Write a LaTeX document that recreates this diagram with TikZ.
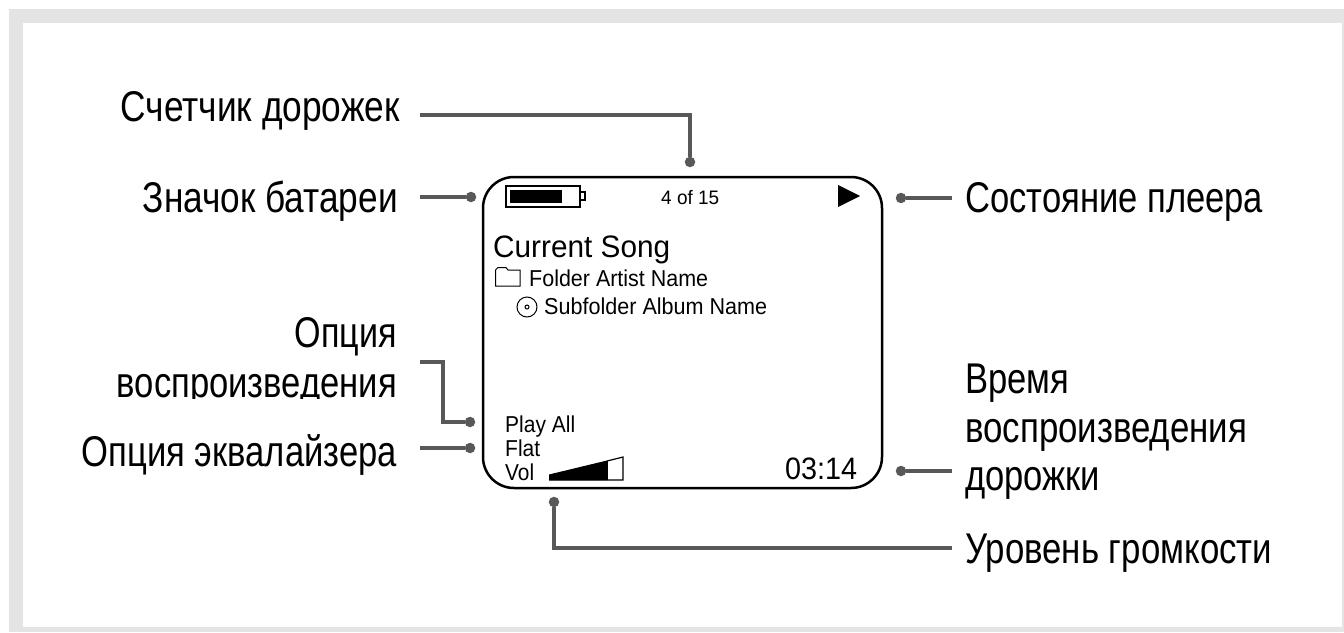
\documentclass[tikz,border=0pt]{standalone}
\usepackage{graphicx}
\usepackage{fontspec}
\setmainfont{Liberation Sans}
\definecolor{framegray}{HTML}{E4E4E4}
\definecolor{leadgray}{HTML}{585858}
\newcommand{\fw}[2]{\resizebox{#1pt}{\height}{#2}}
\newcommand{\fsz}[1]{\fontsize{#1pt}{#1pt}\selectfont}
\tikzset{
  lab/.style={inner sep=0pt,font=\fsz{43}},
  labl/.style={lab,anchor=base west},
  labr/.style={lab,anchor=base east},
  scr/.style={inner sep=0pt,anchor=base west,text=black},
  lead/.style={draw=leadgray,line width=4.5pt},
  dotend/.style={circle,fill=leadgray,inner sep=0pt,minimum size=10.5pt},
  screenbox/.style={draw=black,line width=2.5pt,rounded corners=31pt,inner sep=0pt,minimum width=399pt,minimum height=311pt},
}
\begin{document}
\begin{tikzpicture}[x=1pt,y=-1pt]
\useasboundingbox (0,0) rectangle (1344,632);
\fill[framegray] (9,9) rectangle (1344,632);
\fill[white] (23,23) rectangle (1342,627);

% screen
\node[screenbox] (screen) at (682.5,332.5) {};

% battery
\draw[black,line width=2pt] (506,186) rectangle (580,207);
\fill[black] (510,190) rectangle (562,203);
\draw[black,line width=1.5pt] (580.5,192) rectangle (585,200);
% play triangle
\fill[black] (838,185) -- (860,196) -- (838,207) -- cycle;
% folder icon
\draw[black,line width=1pt] (495.5,286) -- (495.5,270) -- (498,267.5) -- (506,267.5) -- (508,270) -- (520,270) -- (520,286) -- cycle;
% disc icon
\draw[black,line width=1pt] (527,307) circle (10);
\draw[black,line width=1pt] (527,307) circle (2);
% volume wedge
\fill[black] (549,474.5) -- (607,460.5) -- (607,480) -- (549,480) -- cycle;
\draw[black,line width=1.2pt] (549,480) -- (623,480) -- (623,457) -- (607,461);
\draw[black,line width=1.2pt] (607,461) -- (607,480);

% screen texts
\node[scr,font=\fsz{19.5}] (count) at (661,204) {\fw{58}{4 of 15}};
\node[scr,font=\fsz{31}] (song) at (493,257) {\fw{177}{Current Song}};
\node[scr,font=\fsz{23}] (artist) at (529,286) {\fw{179}{Folder Artist Name}};
\node[scr,font=\fsz{23}] (album) at (544,314) {\fw{223}{Subfolder Album Name}};
\node[scr,font=\fsz{23}] (playall) at (505,432) {\fw{70}{Play All}};
\node[scr,font=\fsz{23}] (flat) at (505,456) {\fw{35}{Flat}};
\node[scr,font=\fsz{23}] (vol) at (505,480) {\fw{29}{Vol}};
\node[scr,font=\fsz{31}] (time) at (785,479) {\fw{72}{03:14}};

% labels, left
\node[labr] (ltrack) at (400,121) {\fw{279}{Счетчик дорожек}};
\node[labr] (lbatt) at (398,212) {\fw{255}{Значок батареи}};
\node[labr] (lopt1) at (397,347) {\fw{102}{Опция}};
\begin{scope}
\clip (100,350) rectangle (410,398);
\node[labr] (lopt2) at (397,397) {\fw{280}{воспроизведения}};
\end{scope}
\node[labr] (leq) at (397,466) {\fw{315}{Опция эквалайзера}};
% labels, right
\node[labl] (lstate) at (965,212) {\fw{298}{Состояние плеера}};
\node[labl] (ltime1) at (965,393) {\fw{104}{Время}};
\node[labl] (ltime2) at (965,442) {\fw{282}{воспроизведения}};
\node[labl] (ltime3) at (965,490) {\fw{135}{дорожки}};
\node[labl] (lvol) at (965,563) {\fw{307}{Уровень громкости}};

% connector ends
\node[dotend] (dtrack) at (690,162) {};
\node[dotend] (dbatt) at (471,197) {};
\node[dotend] (dstate) at (901,198) {};
\node[dotend] (dplay) at (470,422) {};
\node[dotend] (deq) at (470,448) {};
\node[dotend] (dtime) at (901,471) {};
\node[dotend] (dvol) at (554,502) {};
\coordinate (ctrack) at (420,115);
\coordinate (cbatt) at (420,197);
\coordinate (cstate) at (952,198);
\coordinate (cplay) at (420,362);
\coordinate (cplayb) at (443,422);
\coordinate (ceq) at (420,448);
\coordinate (ctime) at (952,471);
\coordinate (cvol) at (952,548);

\draw[lead] (ctrack) -| (dtrack);
\draw[lead] (cbatt) -- (dbatt);
\draw[lead] (cstate) -- (dstate);
\draw[lead] (cplay) -| (cplayb) -- (dplay);
\draw[lead] (ceq) -- (deq);
\draw[lead] (ctime) -- (dtime);
\draw[lead] (cvol) -| (dvol);
\end{tikzpicture}
\end{document}
